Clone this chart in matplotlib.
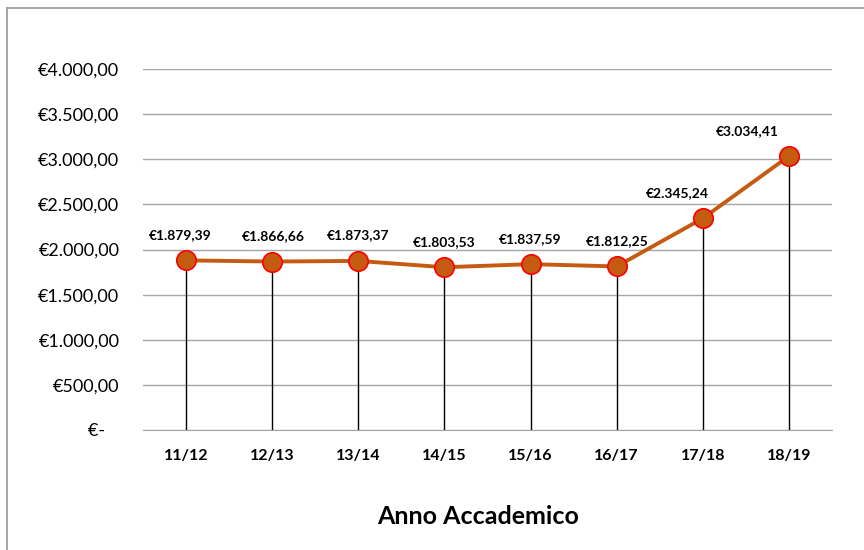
import matplotlib.pyplot as plt
from matplotlib.ticker import FuncFormatter

# Dati: costo medio per anno accademico
anni = ["11/12", "12/13", "13/14", "14/15", "15/16", "16/17", "17/18", "18/19"]
valori = [1879.39, 1866.66, 1873.37, 1803.53, 1837.59, 1812.25, 2345.24, 3034.41]
# spostamento orizzontale delle etichette (pixel), come fa Excel vicino al bordo
spost_etichette = [-4, 1, 0, 0, 0, 0, -18, -30]

plt.rcParams['font.family'] = ['Lato', 'DejaVu Sans']


def euro(v, decimali=2):
    s = f"{v:,.{decimali}f}"
    s = s.replace(",", "X").replace(".", ",").replace("X", ".")
    return "€" + s


def fmt_asse(v, pos):
    if abs(v) < 1e-9:
        return "€-   "
    return euro(v)


fig = plt.figure(figsize=(8.64, 5.5), dpi=100)
ax = fig.add_axes([143 / 864, 1 - 430 / 550, 689 / 864, 361 / 550])

x = list(range(len(anni)))

# linee verticali dai punti all'asse
ax.vlines(x, 0, valori, color="black", linewidth=1, zorder=2)

# linea con marcatori
ax.plot(x, valori, color="#C55A11", linewidth=2.8, marker="o", markersize=14,
        markerfacecolor="#C55A11", markeredgecolor="red", markeredgewidth=1.2,
        zorder=3)

for xi, v, dx in zip(x, valori, spost_etichette):
    ax.annotate(euro(v), (xi, v), xytext=(dx, 14), textcoords="offset points",
                ha="center", va="bottom", fontsize=10, fontweight="bold")

ax.set_xlim(-0.5, len(anni) - 0.5)
ax.set_ylim(0, 4000)
ax.set_yticks(range(0, 4001, 500))
ax.yaxis.set_major_formatter(FuncFormatter(fmt_asse))
ax.set_xticks(x)
ax.set_xticklabels(anni, fontweight="bold", fontsize=11.5)
ax.tick_params(axis="y", length=0, pad=17, labelsize=13)
ax.tick_params(axis="x", length=0, pad=14)
ax.grid(axis="y", color="#a6a6a6", linewidth=1)
ax.set_axisbelow(True)
for s in ax.spines.values():
    s.set_visible(False)
ax.spines["bottom"].set_visible(True)
ax.spines["bottom"].set_color("#a6a6a6")

ax.set_xlabel("Anno Accademico", fontsize=18, fontweight="bold", labelpad=30)
ax.xaxis.label.set_x(0.487)

# bordo del grafico (solo sinistra e alto visibili)
fig.add_artist(plt.Line2D([7 / 864, 7 / 864], [0, 1 - 8 / 550], color="#a0a0a0", linewidth=1.3))
fig.add_artist(plt.Line2D([7 / 864, 1], [1 - 8 / 550, 1 - 8 / 550], color="#a0a0a0", linewidth=1.3))

plt.savefig("out.png")
